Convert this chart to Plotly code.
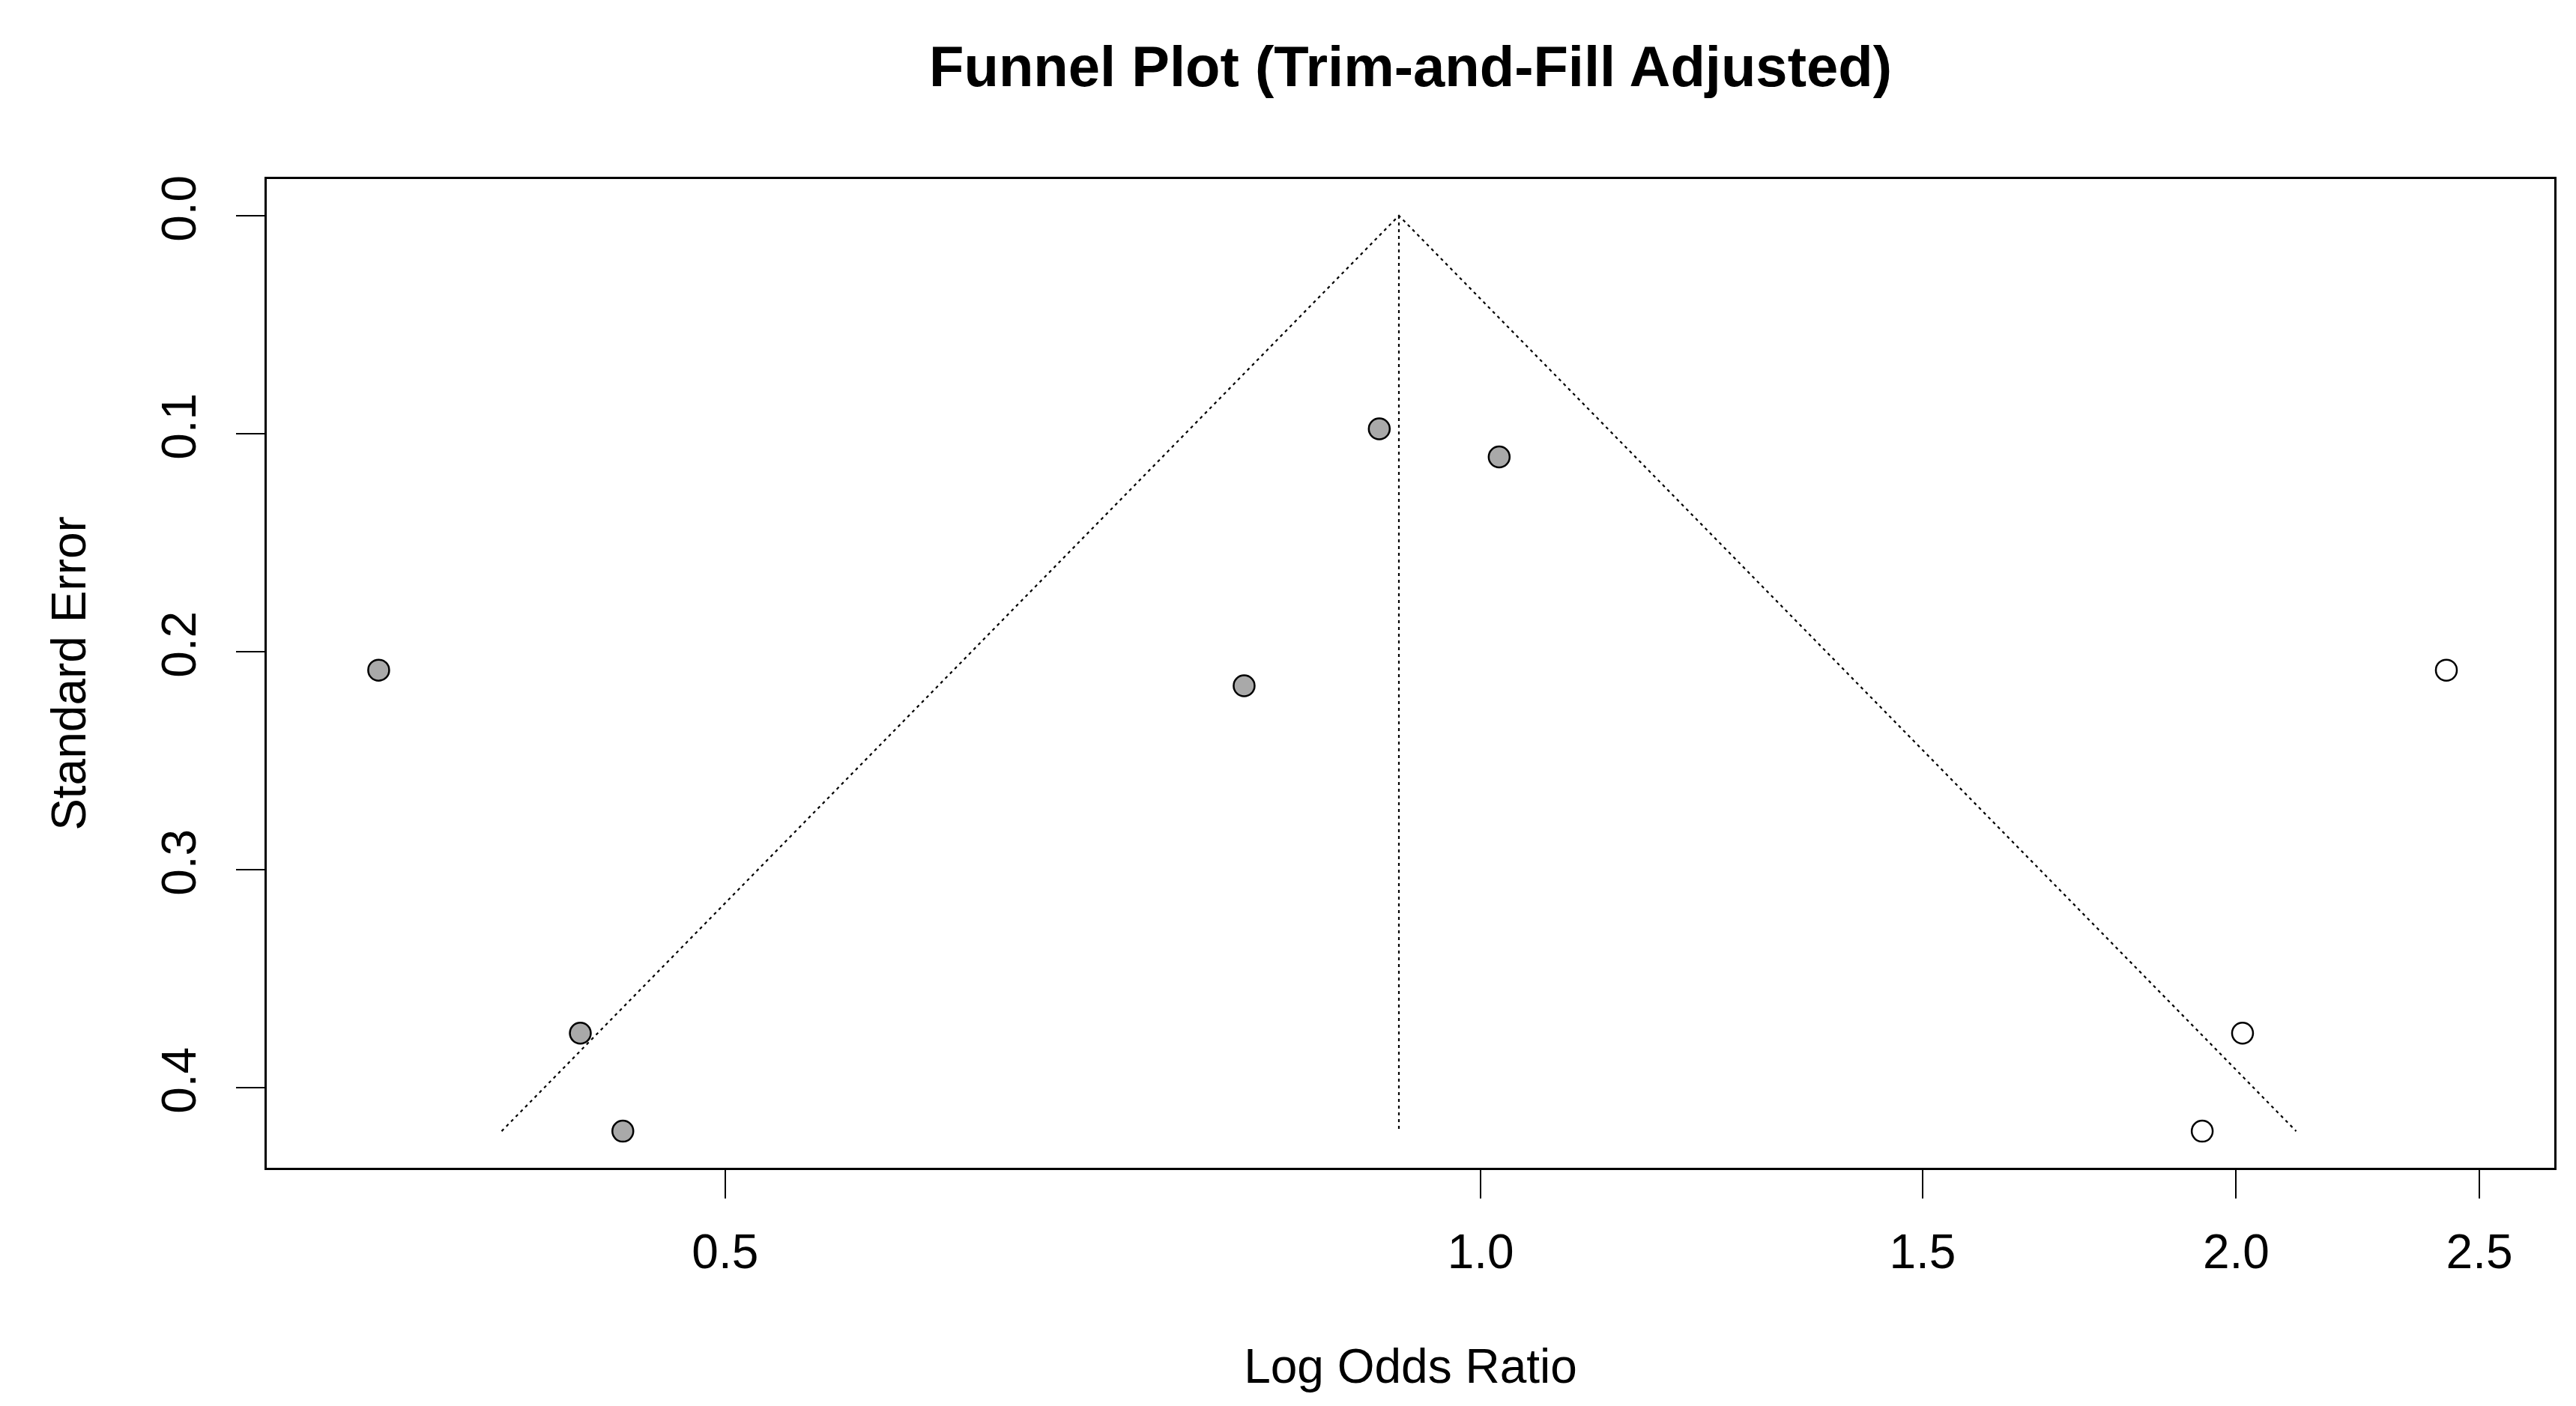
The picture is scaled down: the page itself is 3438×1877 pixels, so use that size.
import numpy as np
import plotly.graph_objects as go

# observed studies (log odds ratio, standard error)
yi_obs = [-1.011, -0.826, -0.787, -0.217, -0.093, 0.017]
sei_obs = [0.2085, 0.375, 0.420, 0.2157, 0.0978, 0.1107]

# studies imputed by trim-and-fill
yi_fill = [0.886, 0.699, 0.662]
sei_fill = [0.2085, 0.375, 0.420]

# pooled (adjusted) estimate and funnel settings
est = -0.075
se_max = 0.42
z_crit = 1.96

or_ticks = [0.5, 1.0, 1.5, 2.0, 2.5]
se_ticks = [0.0, 0.1, 0.2, 0.3, 0.4]

FONT = "Liberation Sans, Arial, sans-serif"

fig = go.Figure()

# funnel (pseudo confidence region) and the estimate line
fig.add_trace(go.Scatter(
    x=[est - z_crit * se_max, est, est + z_crit * se_max],
    y=[se_max, 0, se_max],
    mode="lines",
    line={"color": "black", "width": 2.2, "dash": "4px,5px"},
    hoverinfo="skip",
))
fig.add_trace(go.Scatter(
    x=[est, est],
    y=[0, se_max],
    mode="lines",
    line={"color": "black", "width": 2.2, "dash": "4px,5px"},
    hoverinfo="skip",
))

fig.add_trace(go.Scatter(
    x=yi_obs,
    y=sei_obs,
    mode="markers",
    name="observed",
    marker={"size": 28, "color": "#a9a9a9", "line": {"color": "black", "width": 2.5}},
))
fig.add_trace(go.Scatter(
    x=yi_fill,
    y=sei_fill,
    mode="markers",
    name="filled",
    marker={"size": 28, "color": "white", "line": {"color": "black", "width": 2.5}},
))

axis_common = {
    "showline": True,
    "mirror": True,
    "linecolor": "black",
    "linewidth": 3,
    "showgrid": False,
    "zeroline": False,
    "ticks": "outside",
    "ticklen": 38,
    "tickwidth": 2.2,
    "tickcolor": "black",
    "tickfont": {"family": FONT, "size": 64, "color": "black"},
}

fig.update_layout(
    width=3438,
    height=1877,
    paper_bgcolor="white",
    plot_bgcolor="white",
    showlegend=False,
    margin={"l": 348, "r": 37, "t": 231, "b": 326},
    title={
        "text": "<b>Funnel Plot (Trim-and-Fill Adjusted)</b>",
        "font": {"family": FONT, "size": 76, "color": "black"},
        "x": 0.5,
        "xref": "paper",
        "xanchor": "center",
        "y": 1 - 80 / 1877,
        "yref": "container",
        "yanchor": "middle",
    },
    xaxis={
        **axis_common,
        "range": [-1.1137, 0.985],
        "tickvals": np.log(or_ticks).tolist(),
        "ticktext": [f"{v:.1f}" for v in or_ticks],
        "ticklabelstandoff": 16,
        "title": {
            "text": "Log Odds Ratio",
            "font": {"family": FONT, "size": 64, "color": "black"},
            "standoff": 96,
        },
    },
    yaxis={
        **axis_common,
        "range": [0.4368, -0.0168],
        "tickvals": se_ticks,
        "ticktext": [f"{v:.1f}" for v in se_ticks],
        "tickangle": -90,
        "ticklabelstandoff": 28,
        "title": {
            "text": "Standard Error",
            "font": {"family": FONT, "size": 64, "color": "black"},
            "standoff": 69,
        },
    },
)

fig.write_html("out.html")
